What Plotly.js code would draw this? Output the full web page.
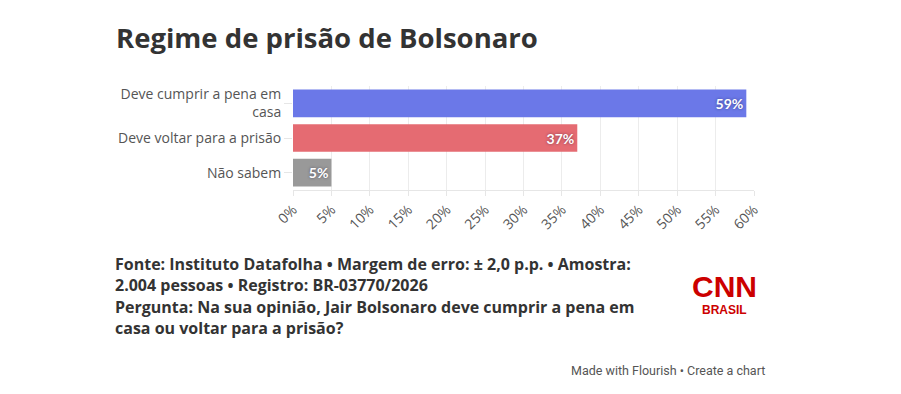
<!DOCTYPE html>
<html><head><meta charset="utf-8">
<script src="https://cdn.plot.ly/plotly-3.0.1.min.js"></script>
<style>html,body{margin:0;padding:0;background:#fff;}#chart{width:901px;height:394px;}</style>
</head><body><div id="chart"></div>
<script>
const categories = ["Deve cumprir a pena em<br>casa", "Deve voltar para a prisão", "Não sabem"];
const values = [59, 37, 5];
const valueLabels = ["59%", "37%", "5%"];
const barColors = ["#6b78e8", "#e56b72", "#999999"];
const xTicks = [0,5,10,15,20,25,30,35,40,45,50,55,60];
const xTickLabels = xTicks.map(v => v + "%");
const titleText = "Regime de prisão de Bolsonaro";
const footerLines = [
  "Fonte: Instituto Datafolha • Margem de erro: ± 2,0 p.p. • Amostra:",
  "2.004 pessoas • Registro: BR-03770/2026",
  "Pergunta: Na sua opinião, Jair Bolsonaro deve cumprir a pena em",
  "casa ou voltar para a prisão?"
];
const creditText = "Made with Flourish • Create a chart";

const trace = {
  type: "bar", orientation: "h",
  y: categories, x: values,
  text: valueLabels, textposition: "inside", insidetextanchor: "end",
  textfont: {family: "Lato, sans-serif", size: 14, color: "#ffffff", weight: 700,
             shadow: "0px 0px 3px rgba(0,0,40,0.45)"},
  marker: {color: barColors},
  hoverinfo: "none", cliponaxis: false
};

const W = 461, H = 104;
const px = x => (x - 293) / W;
const py = y => 1 - (y - 86) / H;

const annotations = [
  {text: "<b>" + titleText + "</b>", xref: "paper", yref: "paper",
   x: px(114), y: py(38), xanchor: "left", yanchor: "middle", showarrow: false,
   font: {size: 27.5, color: "#333", family: "Open Sans, sans-serif"}},
  {text: "<b>CNN</b>", xref: "paper", yref: "paper", x: px(724), y: py(286),
   xanchor: "center", yanchor: "middle", showarrow: false,
   font: {size: 30, color: "#cc0000", family: "Liberation Sans, sans-serif"}},
  {text: "<b>BRASIL</b>", xref: "paper", yref: "paper", x: px(724), y: py(310),
   xanchor: "center", yanchor: "middle", showarrow: false,
   font: {size: 12, color: "#cc0000", family: "Liberation Sans, sans-serif"}},
  {text: creditText, xref: "paper", yref: "paper",
   x: px(767), y: py(370), xanchor: "right", yanchor: "middle", showarrow: false,
   font: {size: 12.5, color: "#555", family: "Roboto, sans-serif"}}
];
footerLines.forEach((line, i) => {
  annotations.push({text: "<b>" + line + "</b>", xref: "paper", yref: "paper",
    x: px(113), y: py(264 + i * 21.4), xanchor: "left", yanchor: "middle",
    align: "left", showarrow: false, font: {size: 16, color: "#333", family: "Open Sans, sans-serif"}});
});

const layout = {
  width: 901, height: 394,
  margin: {l: 293, r: 147, t: 86, b: 204},
  paper_bgcolor: "#fff", plot_bgcolor: "#fff",
  bargap: 0.2,
  showlegend: false,
  font: {family: "Open Sans, sans-serif", color: "#555"},
  xaxis: {
    range: [0, 60], tickvals: xTicks, ticktext: xTickLabels, tickangle: -45,
    showgrid: true, gridcolor: "#ececec", zeroline: false,
    showline: true, linecolor: "#e6e6e6", ticks: "outside", ticklen: 5, tickcolor: "#e6e6e6",
    tickfont: {size: 14, color: "#555"}, fixedrange: true
  },
  yaxis: {
    autorange: "reversed", ticks: "outside", ticklen: 8, tickcolor: "#e6e6e6",
    showline: false, tickfont: {size: 14, color: "#555"}, fixedrange: true
  },
  annotations: annotations
};
Plotly.newPlot("chart", [trace], layout, {displayModeBar: false, staticPlot: true});
</script></body></html>
